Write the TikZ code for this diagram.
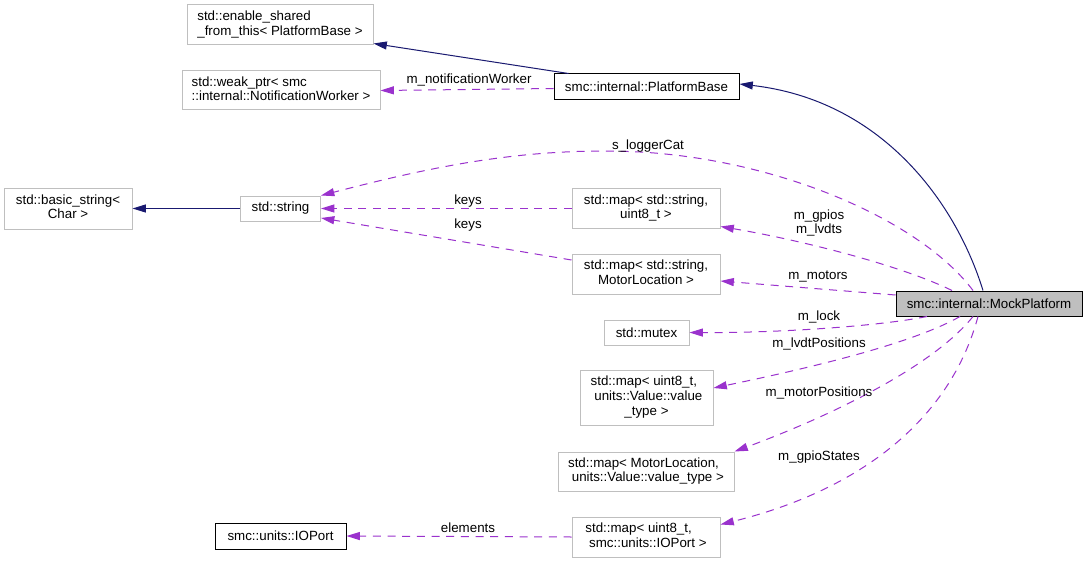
\documentclass[tikz,border=0pt]{standalone}
\usepackage{fontspec}
\setmainfont{Liberation Sans}
\usetikzlibrary{arrows.meta,calc}
\definecolor{navy}{HTML}{191970}
\definecolor{orchid}{HTML}{9A32CD}
\definecolor{boxgray}{HTML}{BFBFBF}
\newcommand{\ctrline}[1]{\multicolumn{1}{@{}c@{}}{#1}}
\begin{document}
\begin{tikzpicture}[x=0.75pt,y=-0.75pt,
  every node/.style={font=\fontsize{10pt}{11pt}\selectfont, inner sep=1pt},
  cls/.style={draw=boxgray, line width=0.75pt, fill=white, rectangle},
  clsb/.style={draw=black, line width=0.75pt, fill=white, rectangle},
  focus/.style={draw=black, line width=0.75pt, fill=boxgray, rectangle},
  inh/.style={draw=navy, line width=0.75pt, -{Triangle[length=10pt,width=6pt]}},
  use/.style={draw=orchid, line width=0.75pt, dash pattern=on 6pt off 5pt, -{Triangle[length=10pt,width=6pt]}},
  lbl/.style={inner sep=0pt}]
\path[use as bounding box, fill=white] (0,0) rectangle (1088,563);

% nodes
\node[focus, minimum width=139.5pt, minimum height=18.75pt] (mock) at (989,303.5) {smc::internal::MockPlatform};
\node[clsb, minimum width=138.75pt, minimum height=19.5pt] (pbase) at (646.5,87) {smc::internal::PlatformBase};
\node[cls, minimum width=139.5pt, minimum height=30pt] (esft) at (280,25)
  {\begin{tabular}{@{}l@{}}std::enable\_shared\\\_from\_this< PlatformBase >\end{tabular}};
\node[cls, minimum width=148.5pt, minimum height=29.25pt] (wptr) at (281,90.5)
  {\begin{tabular}{@{}l@{}}std::weak\_ptr< smc\\::internal::NotificationWorker >\end{tabular}};
\node[cls, minimum width=96pt, minimum height=30.75pt] (bstr) at (68,208.5)
  {\begin{tabular}{@{}l@{}}std::basic\_string<\\\ctrline{Char >}\end{tabular}};
\node[cls, minimum width=60pt, minimum height=18.75pt] (str) at (280.5,208.5) {std::string};
\node[cls, minimum width=111pt, minimum height=30pt] (mapsu) at (646,208.5)
  {\begin{tabular}{@{}l@{}}std::map< std::string,\\\ctrline{uint8\_t >}\end{tabular}};
\node[cls, minimum width=111pt, minimum height=30pt] (mapsm) at (646,274)
  {\begin{tabular}{@{}l@{}}std::map< std::string,\\\ctrline{MotorLocation >}\end{tabular}};
\node[cls, minimum width=63.75pt, minimum height=18.75pt] (mutex) at (646.5,332.5) {std::mutex};
\node[cls, minimum width=99.75pt, minimum height=41.25pt] (mapuv) at (646.5,397.5)
  {\begin{tabular}{@{}l@{}}std::map< uint8\_t,\\\hspace*{2.8pt}units::Value::value\\\ctrline{\_type >}\end{tabular}};
\node[cls, minimum width=132pt, minimum height=29.25pt] (mapmv) at (646,471.5)
  {\begin{tabular}{@{}l@{}}std::map< MotorLocation,\\\hspace*{2.8pt}units::Value::value\_type >\end{tabular}};
\node[cls, minimum width=111pt, minimum height=30pt] (mapio) at (646,537)
  {\begin{tabular}{@{}l@{}}std::map< uint8\_t,\\\hspace*{2.8pt}smc::units::IOPort >\end{tabular}};
\node[clsb, minimum width=98.25pt, minimum height=19.5pt] (ioport) at (280.5,536) {smc::units::IOPort};

% inheritance
\draw[inh] ($(mock.north)+(-6,0)$) .. controls (955,200) and (880,100) .. ($(pbase.east)+(0,-3)$);
\draw[inh] ($(pbase.north west)+(15,0)$) -- ($(esft.south east)+(0,-2)$);
\draw[inh] (str.west) -- (bstr.east);

% usage
\draw[use] ($(pbase.west)+(0,1.5)$) -- (wptr.east);
\draw[use] ($(mock.north)+(-16,0)$) .. controls (920,220) and (780,160) .. (640,152)
  .. controls (520,146) and (420,170) .. (str.north east);
\draw[use] (mapsu.west) -- (str.east);
\draw[use] ($(mapsm.west)+(0,-14)$) -- ($(str.east)+(0,9.5)$);
\draw[use] ($(mock.north)+(-37,0)$) .. controls (900,265) and (800,240) .. ($(mapsu.south east)+(0,-2.5)$);
\draw[use] ($(mock.west)+(0,-8.5)$) -- ($(mapsm.east)+(0,7)$);
\draw[use] ($(mock.south)+(-62,0)$) .. controls (880,326) and (780,333) .. (mutex.east);
\draw[use] ($(mock.south)+(-29,0)$) .. controls (910,345) and (800,370) .. ($(mapuv.east)+(0,-9.5)$);
\draw[use] ($(mock.south)+(-16,0)$) .. controls (930,370) and (820,420) .. (mapmv.north east);
\draw[use] ($(mock.south)+(-11,0)$) .. controls (950,420) and (860,490) .. ($(mapio.north east)+(0,8)$);
\draw[use] (mapio.west) -- (ioport.east);

% labels
\node[lbl] (l1) at (469,80) {m\_notificationWorker};
\node[lbl] (l2) at (648,146) {s\_loggerCat};
\node[lbl] (l3) at (468,201) {keys};
\node[lbl] (l4) at (468,225) {keys};
\node[lbl] (l5) at (819,223.5) {\begin{tabular}{@{}c@{}}m\_gpios\\m\_lvdts\end{tabular}};
\node[lbl] (l6) at (818,277) {m\_motors};
\node[lbl] (l7) at (819,317) {m\_lock};
\node[lbl] (l8) at (819,344) {m\_lvdtPositions};
\node[lbl] (l9) at (819,393) {m\_motorPositions};
\node[lbl] (l10) at (819,457) {m\_gpioStates};
\node[lbl] (l11) at (468,528) {elements};
\end{tikzpicture}
\end{document}
